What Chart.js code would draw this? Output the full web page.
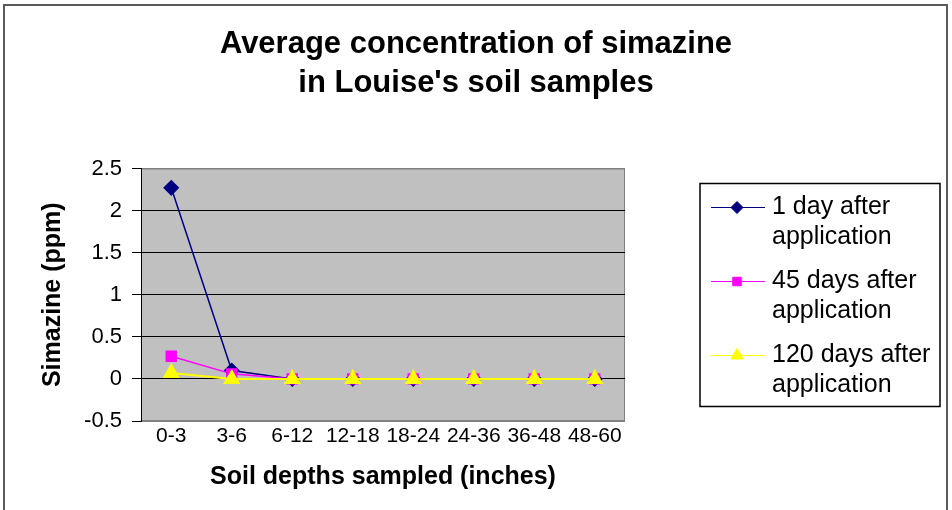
<!DOCTYPE html>
<html>
<head>
<meta charset="utf-8">
<title>Average concentration of simazine</title>
<script src="https://cdn.jsdelivr.net/npm/chart.js@4.4.0/dist/chart.umd.min.js"></script>
<style>
    html, body { margin: 0; padding: 0; background: #fff; overflow: hidden; }
    #frame { position: absolute; left: 3px; top: 4px; width: 941px; height: 540px; border: 2px solid #5a5a5a; }
    #wrap { position: absolute; left: 0; top: 0; width: 952px; height: 510px; }
</style>
</head>
<body>
<div id="frame"></div>
<div id="wrap"><canvas id="simazineChart"></canvas></div>
<script>
// Soil depth categories (inches)
const depths = ['0-3', '3-6', '6-12', '12-18', '18-24', '24-36', '36-48', '48-60'];

// Simazine (ppm) per depth
const day1 = [2.27, 0.10, 0, 0, 0, 0, 0, 0];
const day45 = [0.27, 0.06, 0, 0, 0, 0, 0, 0];
const day120 = [0.07, 0, 0, 0, 0, 0, 0, 0];

// Legend text, two lines each
const seriesLabels = [
    ['1 day after', 'application'],
    ['45 days after', 'application'],
    ['120 days after', 'application']
];

// Y axis range
const yMin = -0.5;
const yMax = 2.5;
const yStep = 0.5;

const FONT = '"Liberation Sans", Arial, sans-serif';

// Gray plot background with thin border
const plotBackground = {
    id: 'plotBackground',
    beforeDraw(chart) {
        const { ctx, chartArea: a } = chart;
        ctx.save();
        ctx.fillStyle = '#C0C0C0';
        ctx.fillRect(a.left, a.top, a.width, a.height);
        ctx.strokeStyle = '#808080';
        ctx.lineWidth = 1;
        ctx.strokeRect(a.left + 0.5, a.top + 0.5, a.width - 1, a.height - 1);
        ctx.restore();
    }
};

function drawLegend(chart, box) {
    const ctx = chart.ctx;
    const x0 = box.left + 75;
    const y0 = chart.chartArea.top + 15;
    const w = 240, h = 223;
    ctx.save();
    ctx.fillStyle = '#ffffff';
    ctx.fillRect(x0, y0, w, h);
    ctx.strokeStyle = '#000000';
    ctx.lineWidth = 1.5;
    ctx.strokeRect(x0, y0, w, h);
    ctx.font = '25px ' + FONT;
    ctx.textAlign = 'left';
    ctx.textBaseline = 'alphabetic';
    chart.data.datasets.forEach((ds, i) => {
        const rowY = y0 + 24 + i * 74;
        ctx.strokeStyle = ds.borderColor;
        ctx.lineWidth = 1.2;
        ctx.beginPath();
        ctx.moveTo(x0 + 11, rowY);
        ctx.lineTo(x0 + 65, rowY);
        ctx.stroke();
        ctx.fillStyle = ds.pointBackgroundColor;
        ctx.strokeStyle = ds.pointBorderColor;
        ctx.lineWidth = 1;
        Chart.helpers.drawPoint(ctx, { pointStyle: ds.pointStyle, radius: ds.pointRadius - 1, rotation: 0, borderWidth: 1 }, x0 + 37, rowY);
        ctx.fillStyle = '#000000';
        seriesLabels[i].forEach((line, j) => ctx.fillText(line, x0 + 72, rowY + 6 + j * 30));
    });
    ctx.restore();
}

// Reserves room on the right for the legend, so the title stays centered on the page
const sideLegend = {
    id: 'sideLegend',
    beforeInit(chart) {
        const box = {
            position: 'right',
            weight: 100,
            fullSize: false,
            options: {},
            left: 0, top: 0, right: 0, bottom: 0, width: 0, height: 0,
            isHorizontal() { return false; },
            update(maxWidth, maxHeight) {
                this.width = 324;
                this.height = maxHeight;
            },
            draw() { drawLegend(chart, this); }
        };
        Chart.layouts.addBox(chart, box);
    }
};

const ctx = document.getElementById('simazineChart').getContext('2d');

new Chart(ctx, {
    type: 'line',
    data: {
        labels: depths,
        datasets: [
            {
                label: seriesLabels[0].join(' '),
                data: day1,
                order: 2,
                borderColor: '#000080',
                backgroundColor: '#000080',
                pointBackgroundColor: '#000080',
                pointBorderColor: '#000080',
                pointStyle: 'rectRot',
                pointRadius: 7,
                borderWidth: 1.5,
                tension: 0
            },
            {
                label: seriesLabels[1].join(' '),
                data: day45,
                order: 1,
                borderColor: '#FF00FF',
                backgroundColor: '#FF00FF',
                pointBackgroundColor: '#FF00FF',
                pointBorderColor: '#FF00FF',
                pointStyle: 'rect',
                pointRadius: 7,
                borderWidth: 1.5,
                tension: 0
            },
            {
                label: seriesLabels[2].join(' '),
                data: day120,
                order: 0,
                borderColor: '#FFFF00',
                backgroundColor: '#FFFF00',
                pointBackgroundColor: '#FFFF00',
                pointBorderColor: '#FFFF00',
                pointStyle: 'triangle',
                pointRadius: 8,
                borderWidth: 2,
                tension: 0
            }
        ]
    },
    options: {
        responsive: true,
        maintainAspectRatio: false,
        animation: false,
        layout: {
            padding: { left: 3, right: 3, top: 0, bottom: 0 }
        },
        plugins: {
            legend: { display: false },
            tooltip: { enabled: false },
            title: {
                display: true,
                text: ['Average concentration of simazine', "in Louise's soil samples"],
                color: '#000000',
                font: { family: FONT, size: 31, weight: 'bold', lineHeight: 1.25 },
                padding: { top: 25, bottom: 66 }
            }
        },
        scales: {
            x: {
                offset: true,
                grid: { display: false, drawTicks: false },
                border: { display: false },
                ticks: {
                    color: '#000000',
                    padding: 3,
                    maxRotation: 0,
                    autoSkip: false,
                    font: { family: FONT, size: 21 }
                },
                title: {
                    display: true,
                    text: 'Soil depths sampled (inches)',
                    color: '#000000',
                    font: { family: FONT, size: 25, weight: 'bold' },
                    padding: { top: 0, bottom: 18 }
                },
                afterFit(scale) {
                    scale.height = 89;
                }
            },
            y: {
                min: yMin,
                max: yMax,
                grid: {
                    color: (c) => (c.tick && (c.tick.value === yMax || c.tick.value === yMin)) ? '#808080' : '#000000',
                    tickColor: '#000000',
                    tickLength: 9,
                    lineWidth: 1
                },
                border: { display: true, color: '#000000', width: 1 },
                ticks: {
                    stepSize: yStep,
                    color: '#000000',
                    padding: 10,
                    font: { family: FONT, size: 22 },
                    callback: (v) => String(Math.round(v * 10) / 10)
                },
                title: {
                    display: true,
                    text: 'Simazine (ppm)',
                    color: '#000000',
                    font: { family: FONT, size: 25, weight: 'bold' },
                    padding: { top: 35, bottom: 0 }
                },
                afterFit(scale) {
                    scale.width = 138;
                }
            }
        }
    },
    plugins: [plotBackground, sideLegend]
});
</script>
</body>
</html>
